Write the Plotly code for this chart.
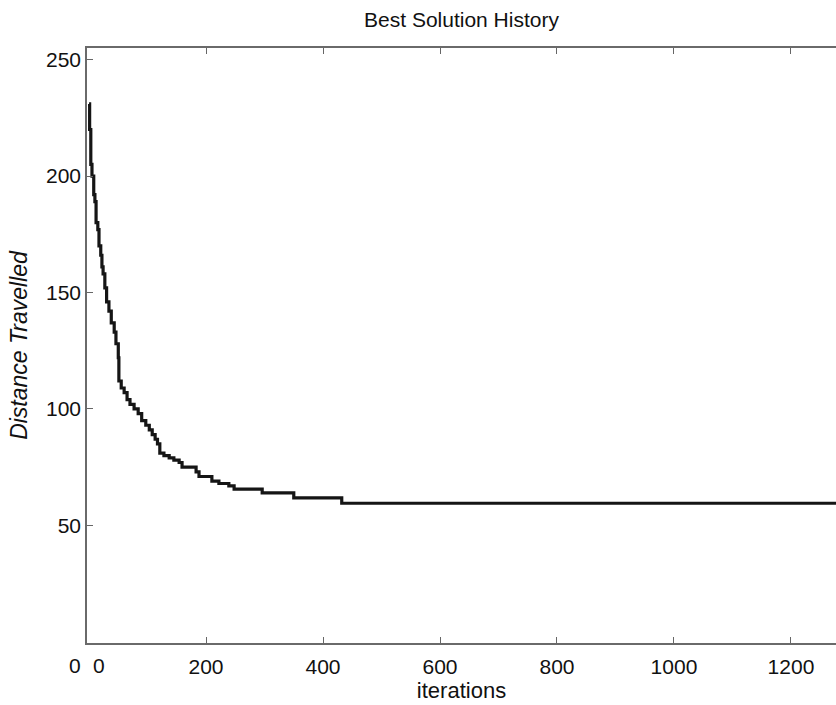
import plotly.graph_objects as go

# Best-so-far distance at the iterations where it changes (step history)
iterations = [0, 1, 3, 5, 8, 10, 12, 15, 17, 20, 22, 24, 27, 30, 34, 38, 43, 46, 50, 51,
              55, 60, 65, 70, 77, 84, 90, 97, 103, 108, 113, 117, 121, 128, 137, 145, 154,
              159, 183, 188, 210, 222, 239, 248, 296, 350, 432, 1300]
best_distance = [231, 220, 205, 200, 192, 189, 180, 177, 170, 166, 161, 158, 152, 146, 142,
                 137, 133, 128, 122, 112, 109, 107, 104, 102, 100, 98, 95, 93, 91, 89, 87, 85,
                 81, 80, 79, 78, 77, 75, 73, 71, 69, 68, 67, 65.6, 64, 61.8, 59.5, 59.5]

x_ticks = [200, 400, 600, 800, 1000, 1200]
y_ticks = [50, 100, 150, 200, 250]

FONT = "Liberation Sans, Arial, Helvetica, sans-serif"

fig = go.Figure()
fig.add_trace(go.Scatter(
    x=iterations, y=best_distance, mode="lines", line_shape="hv",
    line=dict(color="#151515", width=3.2), showlegend=False,
))

fig.update_layout(
    width=836, height=705,
    margin=dict(l=87, r=0, t=48, b=62),
    paper_bgcolor="white", plot_bgcolor="white",
    font=dict(family=FONT, color="#111", size=21),
    title=dict(text="Best Solution History", x=0.5, xref="paper", xanchor="center",
               y=1 - 20 / 705, yanchor="middle", yref="container",
               font=dict(size=21, family=FONT, color="#111")),
    xaxis=dict(range=[-3.5, 1277], tickvals=x_ticks, ticks="inside", ticklen=6,
               tickcolor="#666", showline=True, linecolor="#6a6a6a", linewidth=1.5,
               mirror="ticks", showgrid=False, zeroline=False, automargin=False,
               ticklabelstandoff=4,
               title=dict(text="iterations", standoff=6, font=dict(size=22))),
    yaxis=dict(range=[-0.5, 255], tickvals=y_ticks, ticks="inside", ticklen=6,
               tickcolor="#666", showline=True, linecolor="#6a6a6a", linewidth=1.5,
               mirror=False, showgrid=False, zeroline=False, automargin=False,
               title=dict(text="<i>Distance Travelled</i>", standoff=12,
                          font=dict(size=23))),
    annotations=[
        dict(text="0", xref="paper", yref="paper", x=(75 - 87) / 749, y=-22 / 595,
             showarrow=False, font=dict(size=21, family=FONT, color="#111"),
             xanchor="center", yanchor="middle"),
        dict(text="0", xref="paper", yref="paper", x=(99 - 87) / 749, y=-22 / 595,
             showarrow=False, font=dict(size=21, family=FONT, color="#111"),
             xanchor="center", yanchor="middle"),
    ],
)

fig.write_html(
    "out.html",
    config={"displayModeBar": False},
    post_script="document.body.style.margin='0';document.body.style.overflow='hidden';",
)
